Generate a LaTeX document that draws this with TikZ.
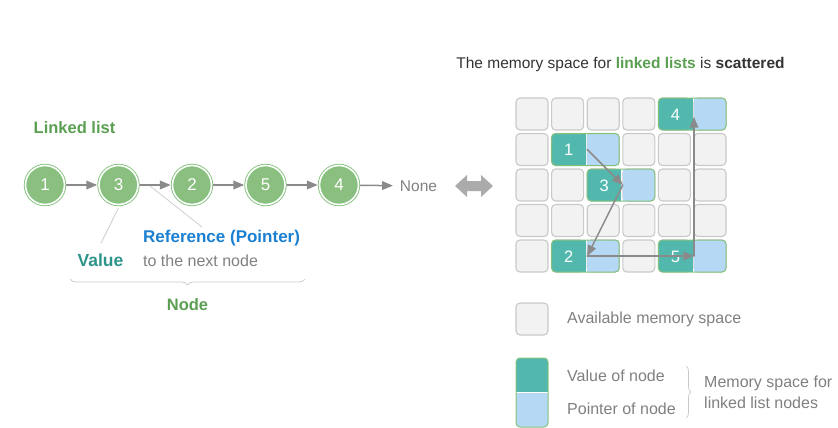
\documentclass[tikz,border=0pt]{standalone}
\usepackage{fontspec}
\setmainfont{Liberation Sans}
\usetikzlibrary{arrows,decorations.pathreplacing}
\definecolor{cellfill}{HTML}{F2F2F2}
\definecolor{cellline}{HTML}{C9C9C9}
\definecolor{tealc}{HTML}{52B8AE}
\definecolor{bluec}{HTML}{B5D9F5}
\definecolor{greenline}{HTML}{84C27C}
\definecolor{circfill}{HTML}{8ABF80}
\definecolor{listgreen}{HTML}{5B9F52}
\definecolor{valteal}{HTML}{2E9488}
\definecolor{refblue}{HTML}{1B80D1}
\definecolor{txtgray}{HTML}{808080}
\definecolor{arrgray}{HTML}{8A8A8A}
\newcommand{\fs}[1]{\fontsize{#1}{#1}\selectfont}
\newcommand{\memnode}[3]{%
\pgfmathsetmacro{\mx}{516+35.6*#2}
\pgfmathsetmacro{\my}{98+35.5*#1}
\begin{scope}
\clip[rounded corners=4] (\mx,\my) rectangle ++(67.6,32);
\fill[tealc] (\mx,\my) rectangle ++(34.2,32);
\fill[bluec] (\mx+35.6,\my) rectangle ++(32,32);
\end{scope}
\draw[greenline,line width=1pt,rounded corners=4] (\mx,\my) rectangle ++(67.6,32);
\node[num] (m#3) at (\mx+17,\my+16.5) {#3};
\coordinate (p#3) at (\mx+35.6,\my+16);
}

\begin{document}
\begin{tikzpicture}[line cap=round,line join=round,>=triangle 45,x=1pt,y=-1pt,
  lnode/.style={circle,fill=circfill,draw=greenline,double=white,double distance=1.6pt,
    line width=0.9pt,minimum size=39pt,inner sep=0pt,text=white,font=\fs{17}},
  num/.style={text=white,font=\fs{16.5},inner sep=0pt},
  conn/.style={->,draw=arrgray,line width=1.5pt},
  thin/.style={draw=cellline,line width=0.7pt},
  cell/.style={fill=cellfill,draw=cellline,line width=1.1pt,rounded corners=4},
  label/.style={font=\fs{16},text=txtgray,anchor=west,inner sep=0pt}]
\useasboundingbox (0,0) rectangle (838,428);
% linked list
\node[font=\bfseries\fs{16.5},text=listgreen] (title) at (74.5,128) {Linked list};
\node[lnode] (a1) at (45,185) {1};
\node[lnode] (a3) at (118.5,185) {3};
\node[lnode] (a2) at (192,185) {2};
\node[lnode] (a5) at (265.5,185) {5};
\node[lnode] (a4) at (339,185) {4};
\node[font=\fs{15.5},text=txtgray,inner sep=1pt] (none) at (418.5,186) {None};
\draw[conn,shorten <=1.5pt,shorten >=1.5pt] (a1) -- (a3);
\draw[conn,shorten <=1.5pt,shorten >=1.5pt] (a3) -- (a2);
\draw[conn,shorten <=1.5pt,shorten >=1.5pt] (a2) -- (a5);
\draw[conn,shorten <=1.5pt,shorten >=1.5pt] (a5) -- (a4);
\draw[conn,shorten <=1.5pt,shorten >=6pt] (a4) -- (none);
\node[font=\bfseries\fs{17.5},text=valteal] (val) at (100.5,260) {Value};
\node[font=\bfseries\fs{17},text=refblue,anchor=west,inner sep=0pt] (ref) at (143,238) {Reference (Pointer)};
\node[label] (next) at (143,261) {to the next node};
\coordinate (refstart) at (150,186);
\coordinate (refend) at (202,227);
\draw[thin] (a3.south) ++(0,3) -- (101,243);
\draw[thin] (refstart) -- (refend);
\coordinate (bl) at (70,279);
\coordinate (br) at (305,279);
\draw[thin,decorate,decoration={brace,amplitude=6pt,mirror}] (bl) -- (br);
\node[font=\bfseries\fs{16.5},text=listgreen] (nodelbl) at (187.5,305) {Node};
% double arrow
\fill[black!33] (455,186) -- (467,175) -- (467,181) -- (481,181) -- (481,175) -- (493,186)
  -- (481,197) -- (481,191) -- (467,191) -- (467,197) -- cycle;
% memory
\node[font=\fs{15.5},text=black!80] (mtitle) at (620.5,64) {The memory space for \textcolor{listgreen}{\bfseries linked lists} is \textbf{scattered}};
\foreach \r in {0,...,4}
  \foreach \c in {0,...,5}
    \draw[cell] ({516+35.6*\c},{98+35.5*\r}) rectangle ++(32,32);
\memnode{0}{4}{4}
\memnode{1}{1}{1}
\memnode{2}{2}{3}
\memnode{4}{1}{2}
\memnode{4}{4}{5}
\draw[conn] (p1) -- (p3);
\draw[conn] (p3) -- (p2);
\draw[conn] (p2) -- (p5);
\draw[conn,shorten >=3pt] (p5) -- (p4);
% legend
\draw[cell] (516,303) rectangle (548,335);
\node[label] (avail) at (567,319) {Available memory space};
\begin{scope}
\clip[rounded corners=4] (516,358) rectangle (548,427);
\fill[tealc] (516,358) rectangle (548,391.5);
\fill[bluec] (516,393) rectangle (548,427);
\end{scope}
\draw[greenline,line width=1pt,rounded corners=4] (516,358) rectangle (548,427);
\node[label] (lval) at (567,376) {Value of node};
\node[label] (lptr) at (567,409) {Pointer of node};
\coordinate (bt) at (686,366);
\coordinate (bb) at (686,418);
\draw[thin,decorate,decoration={brace,amplitude=5pt}] (bt) -- (bb);
\node[label] (lmem1) at (704,383) {Memory space for};
\node[label] (lmem2) at (704,403) {linked list nodes};
\end{tikzpicture}
\end{document}
